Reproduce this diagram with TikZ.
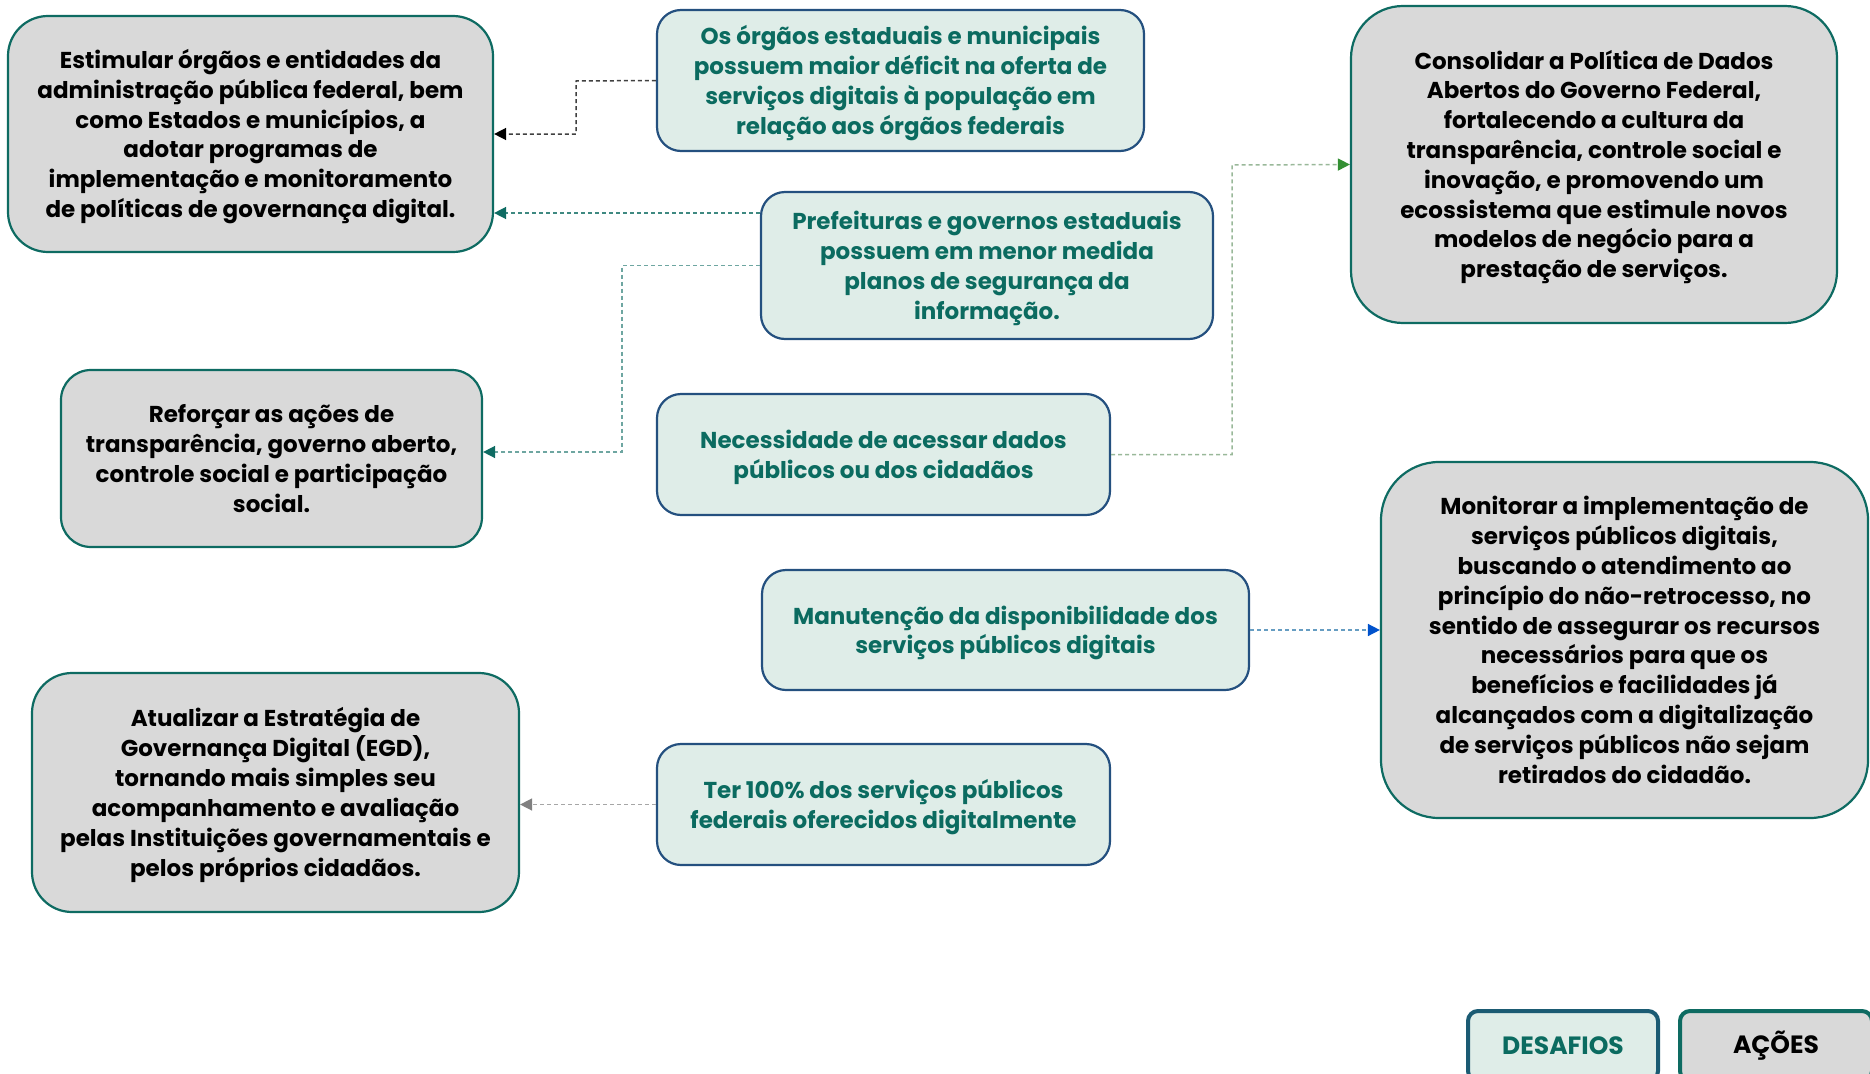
\documentclass[tikz,border=0pt]{standalone}
\usepackage{fontspec}
\setmainfont{Poppins}
\usetikzlibrary{arrows.meta}
\definecolor{desafiofundo}{HTML}{DFEDE8}
\definecolor{desafioborda}{HTML}{24507F}
\definecolor{desafiotexto}{HTML}{0B6B60}
\definecolor{acaofundo}{HTML}{D9D9D9}
\definecolor{acaoborda}{HTML}{0E6B62}
\newcommand{\linhas}[1]{\raisebox{-3pt}[\height][\depth]{\begin{tabular}{@{}c@{}}#1\end{tabular}}}
\tikzset{
  caixa/.style={font=\bfseries\fontsize{23}{29.8}\selectfont, line width=2.2pt},
  acao/.style={caixa, draw=acaoborda, fill=acaofundo, text=black, rounded corners=#1},
  acao/.default=40pt,
  desafio/.style={caixa, draw=desafioborda, fill=desafiofundo, text=desafiotexto, rounded corners=#1},
  desafio/.default=24pt,
  liga/.style={line width=1.5pt, dash pattern=on 4pt off 3pt, draw=#1},
  ponta/.style={-{Triangle[length=12pt,width=12pt,color=#1]}}
}
\begin{document}
\begin{tikzpicture}[x=1pt,y=-1pt]
\useasboundingbox (0,0) rectangle (1870,1073);
\clip (0,0) rectangle (1870,1073);

\node[acao, minimum width=485pt, minimum height=236pt] (estimular) at (250.5,134) {\linhas{Estimular órgãos e entidades da\\administração pública federal, bem\\como Estados e municípios, a\\adotar programas de\\implementação e monitoramento\\de políticas de governança digital.}};
\node[acao=52pt, minimum width=486pt, minimum height=317pt] (consolidar) at (1594,164.5) {\linhas{Consolidar a Política de Dados\\Abertos do Governo Federal,\\fortalecendo a cultura da\\transparência, controle social e\\inovação, e promovendo um\\ecossistema que estimule novos\\modelos de negócio para a\\prestação de serviços.}};
\node[acao=30pt, minimum width=421pt, minimum height=177pt] (reforcar) at (271.5,458.5) {\linhas{Reforçar as ações de\\transparência, governo aberto,\\controle social e participação\\social.}};
\node[acao=58pt, minimum width=487pt, minimum height=356pt] (monitorar) at (1624.5,640) {\linhas{Monitorar a implementação de\\serviços públicos digitais,\\buscando o atendimento ao\\princípio do não-retrocesso, no\\sentido de assegurar os recursos\\necessários para que os\\benefícios e facilidades já\\alcançados com a digitalização\\de serviços públicos não sejam\\retirados do cidadão.}};
\node[acao, minimum width=487pt, minimum height=239pt] (atualizar) at (275.5,792.5) {\linhas{Atualizar a Estratégia de\\Governança Digital (EGD),\\tornando mais simples seu\\acompanhamento e avaliação\\pelas Instituições governamentais e\\pelos próprios cidadãos.}};

\node[desafio, minimum width=487pt, minimum height=141pt] (orgaos) at (900.5,80.5) {\linhas{Os órgãos estaduais e municipais\\possuem maior déficit na oferta de\\serviços digitais à população em\\relação aos órgãos federais}};
\node[desafio, minimum width=452pt, minimum height=147pt] (prefeituras) at (987,265.5) {\linhas{Prefeituras e governos estaduais\\possuem em menor medida\\planos de segurança da\\informação.}};
\node[desafio, minimum width=453pt, minimum height=121pt] (dados) at (883.5,454.5) {\linhas{Necessidade de acessar dados\\públicos ou dos cidadãos}};
\node[desafio, minimum width=487pt, minimum height=120pt] (manutencao) at (1005.5,630) {\linhas{Manutenção da disponibilidade dos\\serviços públicos digitais}};
\node[desafio, minimum width=453pt, minimum height=121pt] (cemporcento) at (883.5,804.5) {\linhas{Ter 100\% dos serviços públicos\\federais oferecidos digitalmente}};

\node[desafio=10pt, draw=desafioborda!60!acaoborda, line width=4pt, minimum width=190pt, minimum height=70pt, font=\bfseries\fontsize{25}{30}\selectfont] (legdesafios) at (1563,1046) {DESAFIOS};
\node[acao=10pt, line width=4pt, minimum width=192pt, minimum height=70pt, font=\bfseries\fontsize{25}{30}\selectfont] (legacoes) at (1776,1046) {AÇÕES};

\coordinate (k1) at (576,81);
\coordinate (k2) at (700,213);
\coordinate (k3) at (622,452);
\coordinate (k4) at (1232,165);

\draw[liga=black!75, ponta=black] (orgaos.west) -- (k1) |- (estimular.east);
\draw[liga=acaoborda!80, ponta=acaoborda] (k2 -| prefeituras.west) -- (k2 -| estimular.east);
\draw[liga=acaoborda!60, ponta=acaoborda] (prefeituras.west) -| (k3) -- (k3 -| reforcar.east);
\draw[liga=green!30!black!40!white, ponta=green!45!black!80] (dados.east) -| (k4) -- (consolidar.west);
\draw[liga=blue!40!cyan!60!black!60!white, ponta=blue!60!cyan!80!black] (manutencao.east) -- (manutencao.east -| monitorar.west);
\draw[liga=black!35, ponta=black!50] (cemporcento.west) -- (cemporcento.west -| atualizar.east);
\end{tikzpicture}
\end{document}
